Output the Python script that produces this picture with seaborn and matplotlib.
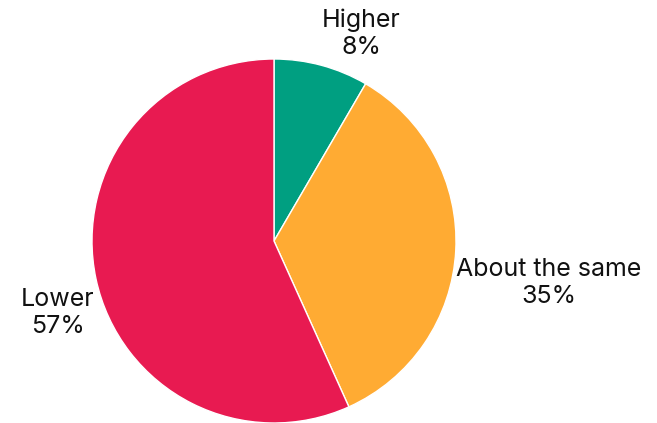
import matplotlib
matplotlib.use("Agg")
import matplotlib.pyplot as plt
import seaborn as sns

# === data ===
categories = ["Higher", "About the same", "Lower"]
shares = [8.4, 34.85, 56.75]
colors = ["#009F81", "#FFAB33", "#E81A51"]

# label centres in pie-radius units (centre = 0,0)
label_pos = [(0.478, 1.140), (1.511, -0.232), (-1.187, -0.397)]

sns.set_theme(style="white")
plt.rcParams["font.family"] = ["Inter", "DejaVu Sans"]

fig = plt.figure(figsize=(6.57, 4.23), dpi=100)
ax = fig.add_axes([0, 0, 1, 1])

wedges, _ = ax.pie(
    shares,
    colors=sns.color_palette(colors),
    startangle=90,
    counterclock=False,
    radius=1,
    wedgeprops=dict(edgecolor="white", linewidth=1),
)

for name, val, (x, y) in zip(categories, shares, label_pos):
    ax.text(x, y, f"{name}\n{val:.0f}%", ha="center", va="center",
            multialignment="center", fontsize=18, linespacing=1.2,
            color="#111111")

# 182 px per radius unit, pie centre at (274, 241) px from top-left
ax.set_xlim(-274 / 182, (657 - 274) / 182)
ax.set_ylim((241 - 423) / 182, 241 / 182)
ax.set_aspect("auto")
ax.axis("off")

fig.savefig("out.png", dpi=100)
